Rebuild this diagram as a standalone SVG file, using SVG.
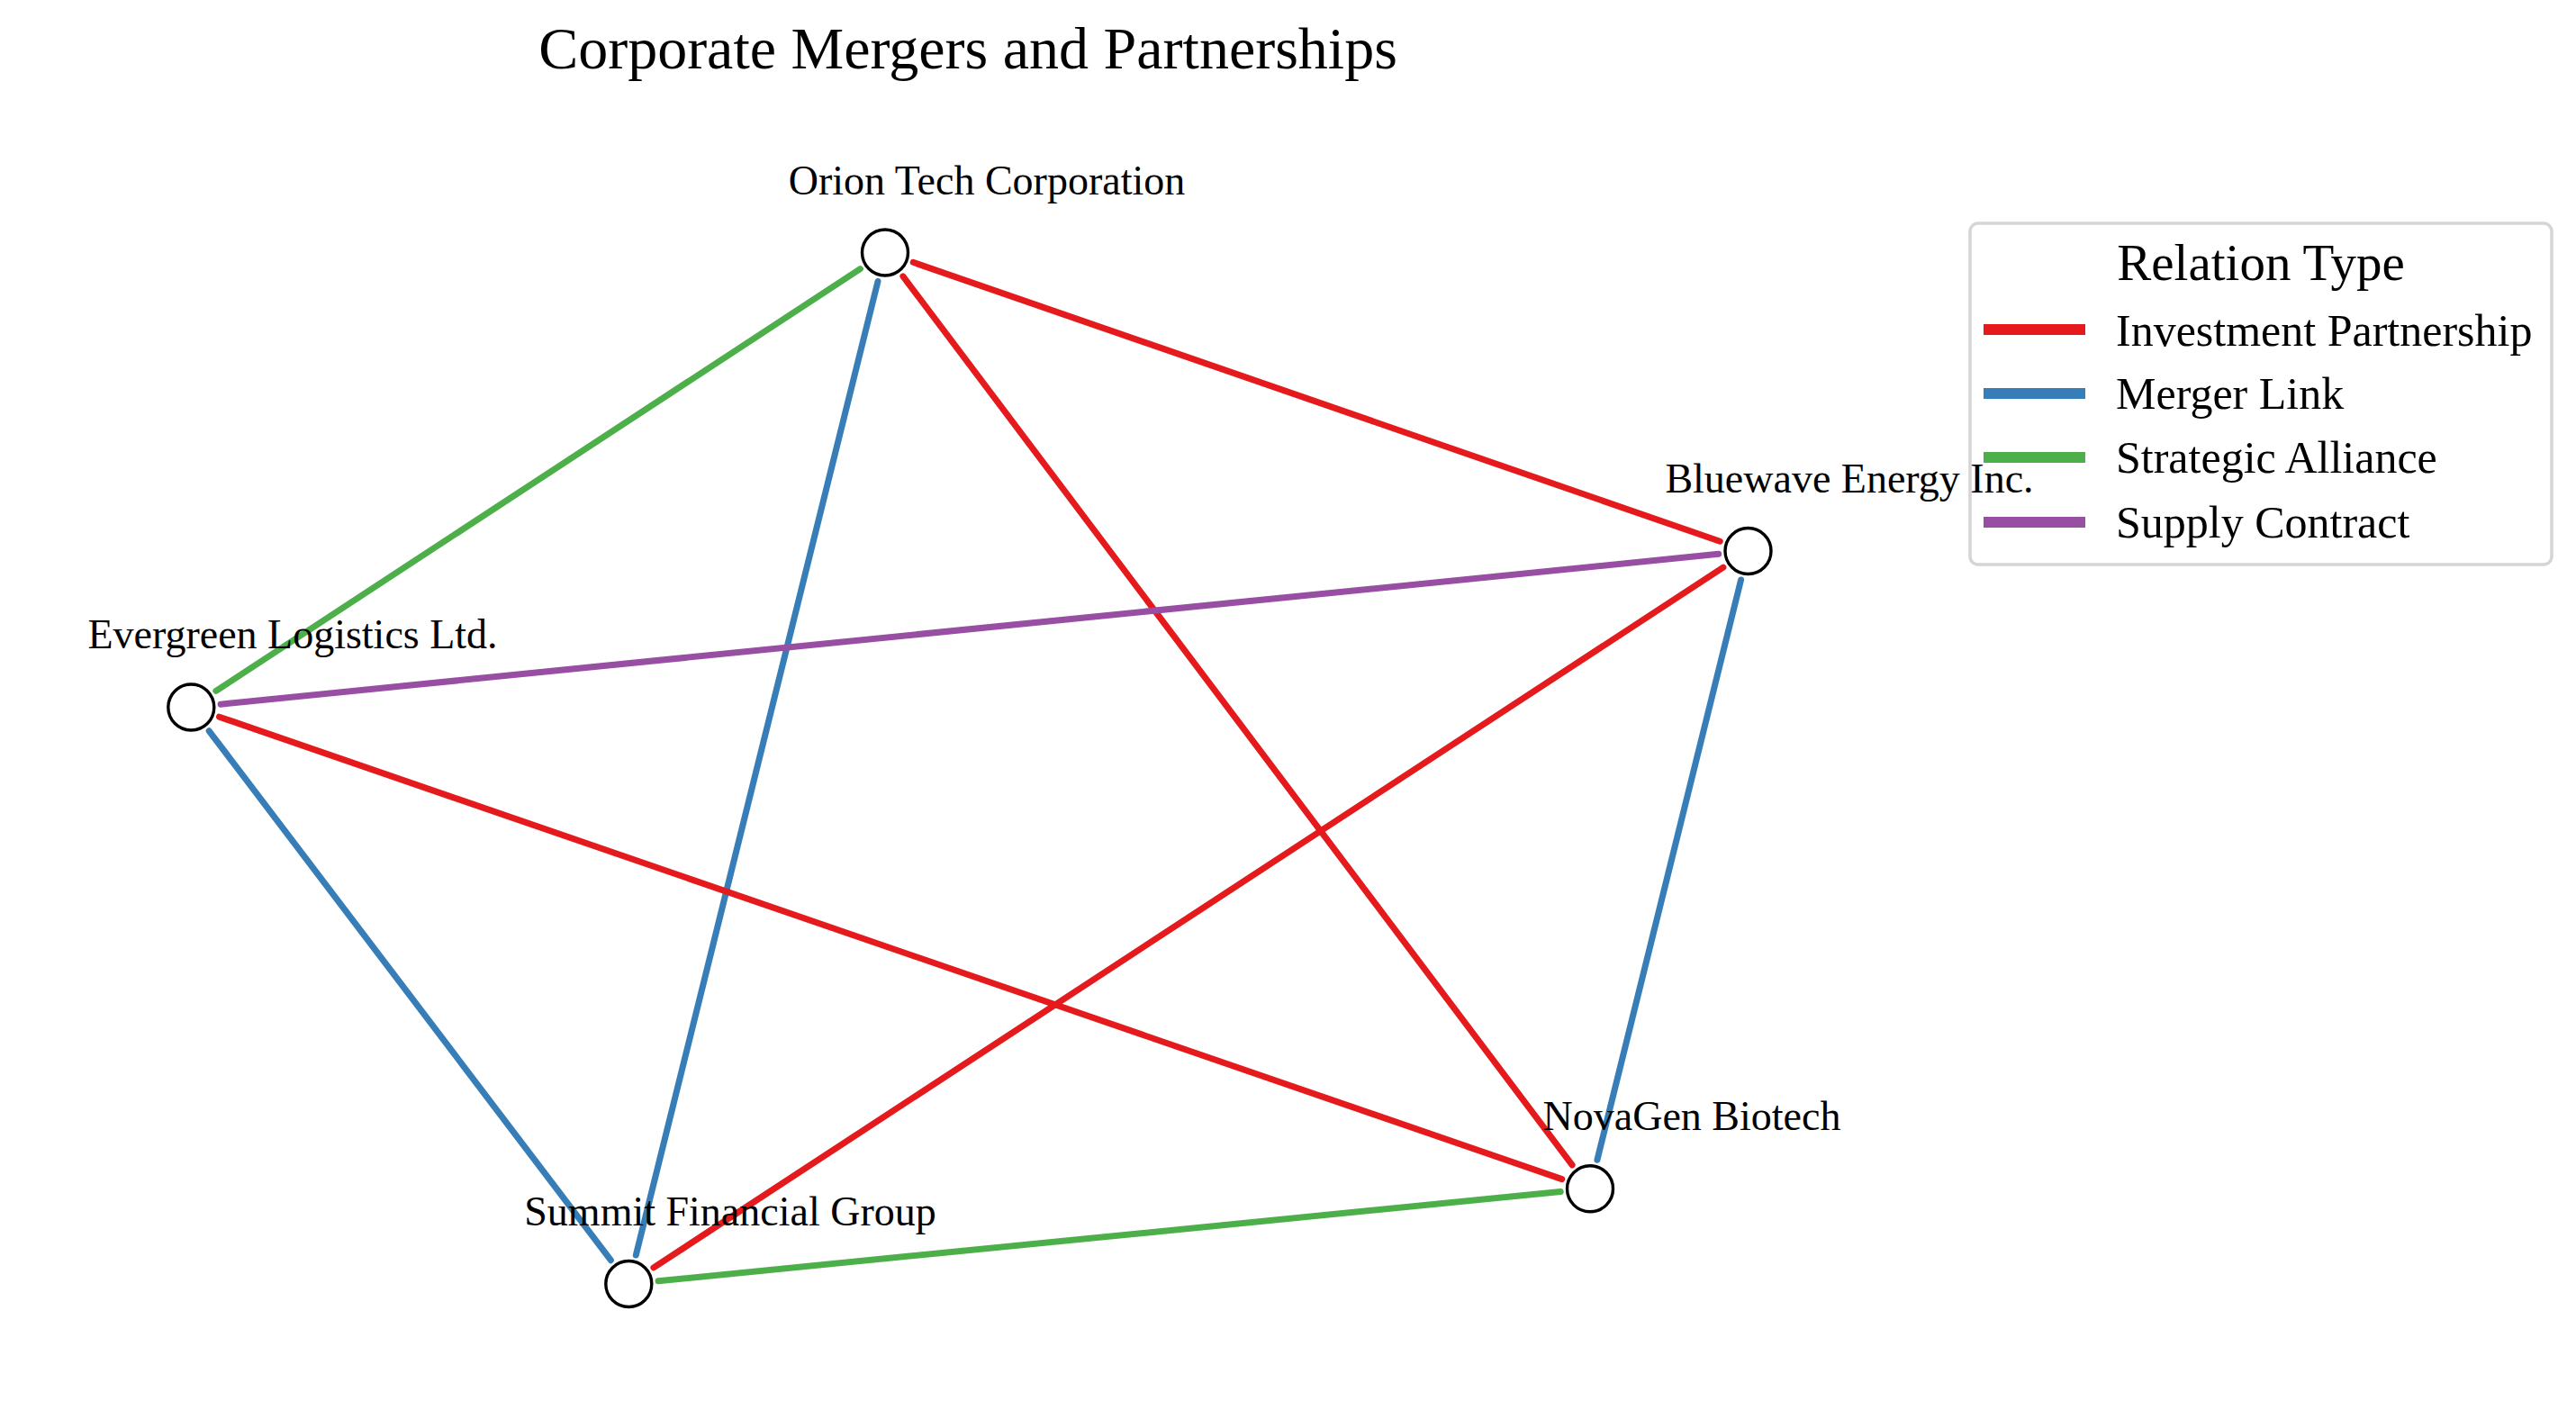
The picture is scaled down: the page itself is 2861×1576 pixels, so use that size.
<svg xmlns="http://www.w3.org/2000/svg" width="2861" height="1576" viewBox="0 0 2861 1576">
<style>
text { font-family: "Liberation Serif", "Times New Roman", serif; fill: #000; }
.title { font-size: 66px; text-anchor: middle; }
.lbl { font-size: 46px; text-anchor: middle; }
.lgt { font-size: 57px; text-anchor: middle; }
.lge { font-size: 50px; }
.e { fill: none; stroke-width: 7; stroke-linecap: round; }
.inv { stroke: #e41a1c; }
.mer { stroke: #377eb8; }
.str { stroke: #4daf4a; }
.sup { stroke: #984ea3; }
.node circle { fill: #fff; stroke: #000; stroke-width: 3.4; }
.lgl { stroke-width: 12; fill: none; }
</style>
<rect width="2861" height="1576" fill="#fff"/>
<text class="title" x="1075" y="76">Corporate Mergers and Partnerships</text>
<g id="connectors">
<line class="e inv" x1="1014.2" y1="291.3" x2="1910.3" y2="601.2"/>
<line class="e inv" x1="1002.9" y1="306.9" x2="1746.1" y2="1293.9"/>
<line class="e str" x1="955.4" y1="298.6" x2="239.9" y2="767.4"/>
<line class="e mer" x1="975.0" y1="312.5" x2="706.3" y2="1394.0"/>
<line class="e sup" x1="245.1" y1="782.2" x2="1908.7" y2="615.3"/>
<line class="e inv" x1="243.5" y1="796.2" x2="1734.8" y2="1309.6"/>
<line class="e mer" x1="232.2" y1="811.8" x2="678.4" y2="1399.7"/>
<line class="e inv" x1="725.9" y1="1407.9" x2="1913.9" y2="630.1"/>
<line class="e str" x1="731.1" y1="1422.7" x2="1733.2" y2="1323.6"/>
<line class="e mer" x1="1933.6" y1="644.0" x2="1773.9" y2="1288.3"/>
</g>
<g id="legend">
<rect x="2188" y="248" width="646" height="379" rx="9" ry="9" fill="#fff" stroke="#d5d5d5" stroke-width="3.5"/>
<text class="lgt" x="2511" y="311">Relation Type</text>
<line class="lgl" x1="2203" y1="366" x2="2316" y2="366" stroke="#e41a1c"/>
<text class="lge" x="2350" y="383.5">Investment Partnership</text>
<line class="lgl" x1="2203" y1="437" x2="2316" y2="437" stroke="#377eb8"/>
<text class="lge" x="2350" y="454">Merger Link</text>
<line class="lgl" x1="2203" y1="508" x2="2316" y2="508" stroke="#4daf4a"/>
<text class="lge" x="2350" y="525">Strategic Alliance</text>
<line class="lgl" x1="2203" y1="580" x2="2316" y2="580" stroke="#984ea3"/>
<text class="lge" x="2350" y="596.5">Supply Contract</text>
</g>
<g id="node-orion" class="node">
<circle cx="983" cy="280.5" r="25.5"/>
<text class="lbl" x="1096" y="216">Orion Tech Corporation</text>
</g>
<g id="node-bluewave" class="node">
<circle cx="1941.5" cy="612" r="25.5"/>
<text class="lbl" x="2054" y="547">Bluewave Energy Inc.</text>
</g>
<g id="node-evergreen" class="node">
<circle cx="212.3" cy="785.5" r="25.5"/>
<text class="lbl" x="325" y="720">Evergreen Logistics Ltd.</text>
</g>
<g id="node-summit" class="node">
<circle cx="698.3" cy="1426" r="25.5"/>
<text class="lbl" x="811" y="1361">Summit Financial Group</text>
</g>
<g id="node-novagen" class="node">
<circle cx="1766" cy="1320.3" r="25.5"/>
<text class="lbl" x="1879" y="1255">NovaGen Biotech</text>
</g>
</svg>
